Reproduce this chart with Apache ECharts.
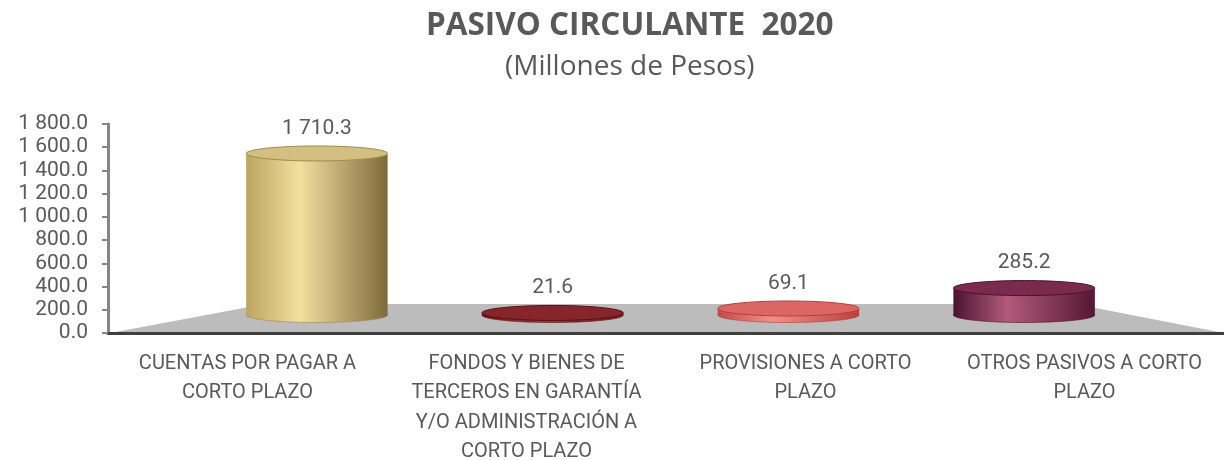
<!DOCTYPE html>
<html>
<head>
<meta charset="utf-8">
<title>Pasivo Circulante 2020</title>
<script src="https://cdn.jsdelivr.net/npm/echarts@6/dist/echarts.min.js"></script>
<style>
  html, body { margin: 0; padding: 0; background: #fff; }
  #main { width: 1224px; height: 460px; }
</style>
</head>
<body>
<div id="main"></div>
<script>
// categorias (eje x)
var categorias = [
    'CUENTAS POR PAGAR A\nCORTO PLAZO',
    'FONDOS Y BIENES DE\nTERCEROS EN GARANTÍA\nY/O ADMINISTRACIÓN A\nCORTO PLAZO',
    'PROVISIONES A CORTO\nPLAZO',
    'OTROS PASIVOS A CORTO\nPLAZO'
];
// valores en millones de pesos
var valores = [1710.3, 21.6, 69.1, 285.2];
// ticks del eje y
var ejeMin = 0;
var ejeMax = 1800;
var ejeIntervalo = 200;

// colores de cada cilindro: [izq, brillo, der, tapa, borde]
var colores = [
    ['#bba55f', '#f3dfa0', '#7d6b3b', '#d3bf80', '#a08a50'],
    ['#6a1316', '#a5353a', '#701a1d', '#86252a', '#5c1013'],
    ['#c24847', '#f29089', '#b9403f', '#dc6663', '#b34040'],
    ['#4a1330', '#b25a7c', '#541734', '#7a2a4c', '#4a1230']
];

function fmt(v) {
    var s = v.toFixed(1);
    var p = s.split('.');
    p[0] = p[0].replace(/\B(?=(\d{3})+(?!\d))/g, ' ');
    return p.join('.');
}

var chart = echarts.init(document.getElementById('main'));

var datos = [];
for (var i = 0; i < valores.length; i++) {
    datos.push([i, valores[i]]);
}

function cilindro(params, api) {
    var idx = api.value(0);
    var base = api.coord([idx, 0]);
    var tope = api.coord([idx, api.value(1)]);
    var w = api.size([1, 0])[0] * 0.6;
    var rx = w / 2;
    var ry = 7.5;
    var cx = base[0];
    var yb = base[1];
    var yt = tope[1];
    var c = colores[idx];
    var grad = new echarts.graphic.LinearGradient(0, 0, 1, 0, [
        {offset: 0, color: c[0]},
        {offset: 0.38, color: c[1]},
        {offset: 1, color: c[2]}
    ]);
    return {
        type: 'group',
        children: [
            {
                type: 'ellipse',
                shape: {cx: cx, cy: yb, rx: rx, ry: ry},
                style: {fill: grad, stroke: c[4], lineWidth: 0.6}
            },
            {
                type: 'rect',
                shape: {x: cx - rx, y: yt, width: w, height: Math.max(yb - yt, 0)},
                style: {fill: grad}
            },
            {
                type: 'ellipse',
                shape: {cx: cx, cy: yt, rx: rx, ry: ry},
                style: {fill: c[3], stroke: c[4], lineWidth: 1}
            },
            {
                type: 'text',
                style: {
                    text: fmt(api.value(1)),
                    x: cx,
                    y: yt - 25,
                    align: 'center',
                    verticalAlign: 'middle',
                    fill: '#595959',
                    fontSize: 21,
                    fontFamily: 'Roboto'
                }
            }
        ]
    };
}

var option = {
    backgroundColor: '#fff',
    animation: false,
    title: [
        {
            text: 'PASIVO CIRCULANTE  2020',
            left: 426,
            top: 10,
            padding: 0,
            textStyle: {
                fontFamily: 'Open Sans',
                fontWeight: 'bold',
                fontSize: 31.5,
                color: '#595959'
            }
        },
        {
            text: '(Millones de Pesos)',
            left: 505,
            top: 53,
            padding: 0,
            textStyle: {
                fontFamily: 'Open Sans',
                fontWeight: 'normal',
                fontSize: 28,
                color: '#595959'
            }
        }
    ],
    graphic: [{
        // piso gris
        type: 'polygon',
        z: -1,
        shape: {points: [[110, 333], [265, 304], [1075, 304], [1224, 333]]},
        style: {fill: '#bcbcbc'}
    }],
    grid: [
        {left: 108, right: 0, top: 124, bottom: 127, outerBoundsMode: 'none'},
        {left: 199, right: 82, top: 145, bottom: 145, outerBoundsMode: 'none'}
    ],
    xAxis: [
        {
            type: 'category',
            gridIndex: 0,
            data: categorias,
            axisLine: {lineStyle: {color: '#3f3f3f', width: 3}},
            axisTick: {show: false},
            axisLabel: {
                interval: 0,
                margin: 16,
                color: '#595959',
                fontSize: 20,
                lineHeight: 29.5,
                fontFamily: 'Roboto'
            }
        },
        {
            type: 'category',
            gridIndex: 1,
            data: categorias,
            show: false
        }
    ],
    yAxis: [
        {
            type: 'value',
            gridIndex: 0,
            min: ejeMin,
            max: ejeMax,
            interval: ejeIntervalo,
            splitLine: {show: false},
            axisLine: {show: true, lineStyle: {color: '#868686', width: 3}},
            axisTick: {show: true, length: 6, lineStyle: {color: '#868686', width: 2}},
            axisLabel: {
                margin: 20,
                color: '#595959',
                fontSize: 21,
                fontFamily: 'Roboto',
                formatter: function (v) { return fmt(v); }
            }
        },
        {
            type: 'value',
            gridIndex: 1,
            min: ejeMin,
            max: ejeMax,
            show: false,
            splitLine: {show: false}
        }
    ],
    series: [{
        type: 'custom',
        xAxisIndex: 1,
        yAxisIndex: 1,
        renderItem: cilindro,
        data: datos,
        z: 3
    }]
};

chart.setOption(option);
</script>
</body>
</html>
